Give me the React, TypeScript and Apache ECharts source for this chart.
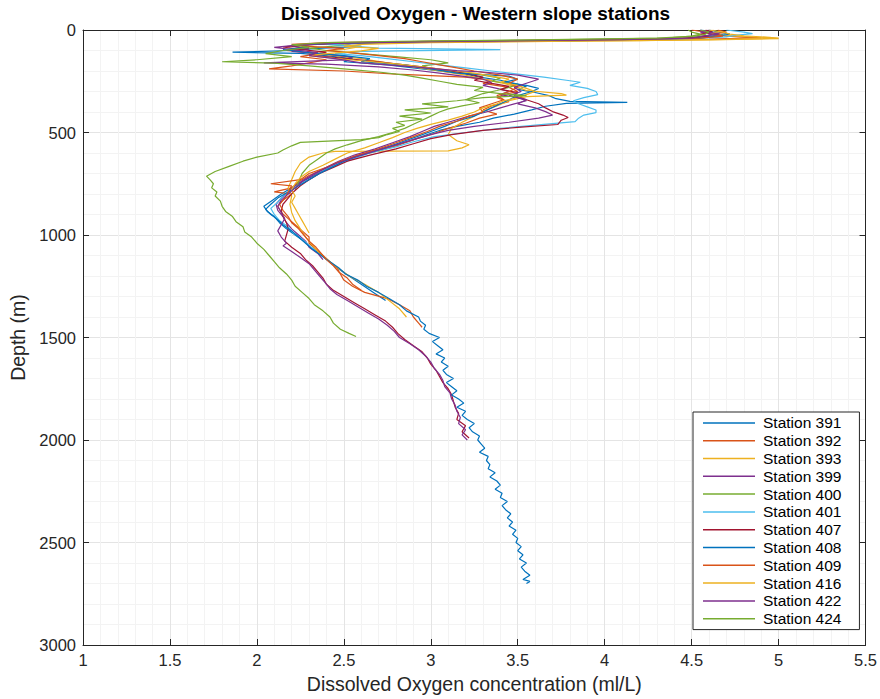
import React, { useEffect, useRef } from "react";
import * as echarts from "echarts";

// Each profile is a list of [depth (m), dissolved oxygen (ml/L)] samples.
const stationNames = [
  "Station 391", "Station 392", "Station 393", "Station 399", "Station 400", "Station 401",
  "Station 407", "Station 408", "Station 409", "Station 416", "Station 422", "Station 424",
];

const stationColors = [
  "#0072BD", "#D95319", "#EDB120", "#7E2F8E", "#77AC30", "#4DBEEE",
  "#A2142F", "#0072BD", "#D95319", "#EDB120", "#7E2F8E", "#77AC30",
];

const st391 = [
  [0, 4.55], [8, 4.62], [16, 4.6], [24, 4.68], [32, 4.58], [40, 4.5], [48, 4.2], [56, 3.4], [62, 2.7], [70, 2.45],
  [80, 2.6], [90, 2.35], [100, 2.2], [108, 1.86], [114, 2.25], [125, 2.4], [140, 2.55], [155, 2.5], [170, 2.75],
  [185, 2.9], [200, 3.05], [215, 3.2], [230, 3.28], [245, 3.4], [260, 3.48], [275, 3.55], [290, 3.5], [305, 3.6],
  [320, 3.68], [335, 3.72], [348, 3.8], [353, 4.13], [358, 3.78], [372, 3.66], [390, 3.58], [410, 3.48], [430, 3.36],
  [450, 3.28], [470, 3.15], [490, 3.05], [510, 2.98], [535, 2.9], [560, 2.8], [590, 2.68], [620, 2.56], [650, 2.48],
  [680, 2.4], [710, 2.33], [740, 2.26], [770, 2.2], [800, 2.14], [830, 2.09], [860, 2.04], [885, 2.06], [910, 2.1],
  [940, 2.13], [970, 2.17], [1000, 2.22], [1030, 2.27], [1060, 2.31], [1090, 2.36], [1120, 2.4], [1160, 2.46],
  [1200, 2.53], [1240, 2.6], [1280, 2.67], [1320, 2.74],
];

const st392 = [
  [0, 4.5], [10, 4.58], [20, 4.62], [30, 4.7], [38, 4.9], [44, 4.6], [52, 3.8], [60, 2.9], [68, 2.4], [78, 2.2],
  [88, 2.3], [100, 2.17], [115, 2.35], [130, 2.25], [145, 2.4], [160, 2.3], [175, 2.2], [190, 2.07], [200, 2.5],
  [215, 2.8], [230, 3.2], [245, 3.35], [260, 3.3], [280, 3.45], [300, 3.5], [315, 3.42], [330, 3.38], [350, 3.45],
  [370, 3.35], [390, 3.3], [410, 3.38], [430, 3.28], [455, 3.2], [480, 3.1], [505, 3.02], [530, 2.92], [560, 2.82],
  [590, 2.7], [620, 2.55], [650, 2.45], [680, 2.38], [710, 2.3], [740, 2.24], [770, 2.2], [790, 2.1], [800, 2.2],
  [830, 2.15], [860, 2.12], [890, 2.14], [920, 2.18], [950, 2.22], [980, 2.26], [1010, 2.3], [1040, 2.3],
  [1070, 2.34], [1100, 2.38], [1130, 2.42], [1160, 2.46], [1190, 2.48], [1220, 2.5], [1250, 2.55], [1280, 2.62],
  [1310, 2.75], [1340, 2.82], [1370, 2.88], [1400, 2.9], [1430, 2.93], [1450, 2.95],
];

const st393 = [
  [0, 4.62], [10, 4.65], [20, 4.6], [30, 4.75], [40, 5.0], [46, 4.7], [52, 4.2], [56, 3.3], [62, 2.6], [70, 2.45],
  [80, 2.6], [95, 2.5], [110, 2.3], [125, 2.45], [140, 2.6], [160, 2.75], [180, 2.9], [200, 3.05], [220, 3.2],
  [240, 3.3], [260, 3.42], [280, 3.5], [295, 3.55], [310, 3.75], [318, 3.78], [325, 3.55], [345, 3.45], [370, 3.38],
  [395, 3.3], [420, 3.25], [450, 3.18], [480, 3.12], [510, 3.1], [540, 3.15], [560, 3.22], [575, 3.18], [590, 3.1],
  [592, 2.45], [600, 2.38], [620, 2.3], [650, 2.25], [690, 2.22], [730, 2.2], [770, 2.18], [810, 2.2], [850, 2.19],
  [890, 2.2], [930, 2.22], [970, 2.25], [1010, 2.28], [1050, 2.32], [1090, 2.36], [1130, 2.42], [1170, 2.48],
  [1200, 2.53], [1240, 2.62], [1280, 2.7], [1320, 2.76], [1360, 2.82], [1400, 2.86],
];

const st399 = [
  [0, 4.6], [10, 4.55], [20, 4.62], [30, 4.58], [40, 4.45], [48, 3.9], [55, 3.0], [62, 2.5], [70, 2.3], [80, 2.2],
  [92, 2.3], [105, 2.2], [118, 2.4], [132, 2.55], [146, 2.5], [160, 2.04], [166, 2.4], [180, 2.7], [195, 2.9],
  [210, 3.05], [225, 3.18], [240, 3.3], [255, 3.35], [270, 3.3], [285, 3.38], [300, 3.45], [315, 3.4], [330, 3.5],
  [345, 3.55], [360, 3.48], [380, 3.4], [400, 3.32], [420, 3.22], [445, 3.12], [470, 3.02], [495, 2.95], [520, 2.88],
  [550, 2.78], [580, 2.68], [610, 2.56], [640, 2.47], [670, 2.4], [700, 2.33], [730, 2.27], [760, 2.22], [790, 2.18],
  [820, 2.14], [850, 2.11], [880, 2.12], [910, 2.15], [940, 2.17], [970, 2.2], [1000, 2.24], [1030, 2.28],
  [1060, 2.3], [1090, 2.35], [1120, 2.38],
];

const st400 = [
  [0, 4.48], [10, 4.5], [20, 4.55], [30, 4.5], [40, 4.35], [50, 3.5], [58, 2.8], [66, 2.4], [75, 2.5], [88, 2.3],
  [100, 2.4], [115, 2.6], [130, 2.8], [145, 3.0], [160, 3.1], [175, 2.95], [190, 3.0], [205, 3.15], [220, 3.3],
  [235, 3.4], [250, 3.35], [265, 3.5], [280, 3.45], [295, 3.38], [310, 3.3], [325, 3.25], [340, 3.2], [355, 3.28],
  [370, 3.18], [385, 3.1], [400, 3.05], [420, 3.0], [440, 2.95], [460, 2.9], [480, 2.85], [500, 2.78], [520, 2.7],
  [540, 2.6], [560, 2.52], [580, 2.45], [600, 2.4], [630, 2.35], [660, 2.3], [700, 2.26], [740, 2.24], [780, 2.22],
];

const st401 = [
  [0, 4.7], [10, 4.8], [18, 4.85], [26, 4.75], [34, 4.7], [42, 4.5], [50, 4.0], [56, 3.2], [62, 2.6], [70, 2.4],
  [78, 2.55], [88, 2.7], [96, 3.4], [104, 2.6], [115, 2.45], [125, 2.6], [140, 2.75], [155, 2.9], [170, 3.05],
  [185, 3.2], [200, 3.35], [215, 3.5], [230, 3.65], [245, 3.78], [255, 3.86], [270, 3.8], [285, 3.9], [300, 3.95],
  [315, 3.96], [330, 3.88], [345, 3.82], [360, 3.85], [375, 3.9], [390, 3.95], [403, 3.95], [415, 3.88], [430, 3.85],
  [447, 3.83], [460, 3.65], [480, 3.4], [500, 3.2], [520, 3.02], [545, 2.9], [570, 2.8], [600, 2.65], [630, 2.55],
  [660, 2.45], [690, 2.38], [720, 2.32], [750, 2.25], [780, 2.2], [810, 2.15], [840, 2.12], [870, 2.08], [900, 2.1],
  [930, 2.13], [960, 2.18], [990, 2.21], [1020, 2.26], [1050, 2.3], [1080, 2.34],
];

const st407 = [
  [0, 4.58], [10, 4.62], [20, 4.55], [30, 4.6], [40, 4.48], [48, 4.0], [56, 3.1], [63, 2.5], [72, 2.3], [82, 2.15],
  [95, 2.25], [108, 2.4], [122, 2.3], [138, 2.5], [155, 2.7], [170, 2.85], [185, 3.0], [200, 3.12], [215, 3.22],
  [230, 3.3], [245, 3.25], [260, 3.35], [275, 3.45], [290, 3.4], [305, 3.5], [320, 3.48], [340, 3.55], [360, 3.62],
  [380, 3.66], [398, 3.7], [415, 3.76], [427, 3.79], [440, 3.75], [461, 3.73], [475, 3.5], [490, 3.3], [510, 3.12],
  [530, 3.0], [555, 2.9], [580, 2.8], [610, 2.65], [640, 2.52], [670, 2.44], [700, 2.36], [730, 2.3], [760, 2.25],
  [790, 2.21], [820, 2.18], [850, 2.15], [880, 2.14], [910, 2.15], [940, 2.17], [970, 2.18], [1000, 2.17],
  [1030, 2.16], [1060, 2.2], [1090, 2.25], [1120, 2.28], [1150, 2.32], [1180, 2.35], [1210, 2.38], [1240, 2.4],
  [1270, 2.44], [1300, 2.5], [1330, 2.56], [1360, 2.62], [1390, 2.68], [1420, 2.74], [1450, 2.78], [1480, 2.81],
  [1510, 2.85], [1540, 2.9], [1570, 2.95], [1600, 2.98], [1630, 3.0], [1660, 3.03], [1690, 3.05], [1720, 3.07],
  [1750, 3.1], [1780, 3.12], [1810, 3.13], [1840, 3.14], [1870, 3.16], [1900, 3.15], [1930, 3.2], [1960, 3.18],
  [1990, 3.22],
];

const st408 = [
  [0, 4.6], [10, 4.66], [20, 4.72], [30, 4.64], [40, 4.55], [50, 4.1], [58, 3.0], [66, 2.4], [74, 2.25], [85, 2.3],
  [95, 2.15], [110, 2.3], [125, 2.5], [140, 2.65], [155, 2.6], [170, 2.85], [190, 3.0], [210, 3.15], [225, 3.45],
  [240, 3.5], [255, 3.42], [270, 3.55], [285, 3.62], [300, 3.58], [320, 3.5], [340, 3.45], [360, 3.4], [380, 3.35],
  [400, 3.3], [420, 3.25], [445, 3.15], [470, 3.08], [495, 3.0], [520, 2.92], [550, 2.82], [580, 2.72], [610, 2.6],
  [640, 2.5], [670, 2.43], [700, 2.36], [730, 2.3], [760, 2.24], [790, 2.18], [820, 2.12], [850, 2.08], [875, 2.05],
  [900, 2.08], [925, 2.12], [950, 2.15], [980, 2.2], [1010, 2.24], [1040, 2.28], [1070, 2.32], [1100, 2.37],
  [1130, 2.42], [1160, 2.47], [1190, 2.51], [1220, 2.58], [1250, 2.63], [1280, 2.7], [1310, 2.76], [1340, 2.82],
  [1370, 2.86], [1400, 2.93], [1420, 2.94], [1440, 2.97], [1460, 2.96], [1480, 2.99], [1500, 3.05], [1520, 3.01],
  [1540, 3.04], [1560, 3.07], [1580, 3.03], [1600, 3.08], [1620, 3.06], [1640, 3.1], [1660, 3.07], [1680, 3.09],
  [1700, 3.13], [1720, 3.09], [1740, 3.12], [1760, 3.15], [1780, 3.12], [1800, 3.16], [1820, 3.19], [1840, 3.15],
  [1860, 3.2], [1880, 3.18], [1900, 3.21], [1920, 3.25], [1940, 3.22], [1960, 3.24], [1980, 3.28], [2000, 3.27],
  [2020, 3.29], [2040, 3.31], [2060, 3.28], [2080, 3.33], [2100, 3.32], [2120, 3.34], [2140, 3.33], [2160, 3.37],
  [2180, 3.34], [2200, 3.38], [2220, 3.4], [2240, 3.37], [2260, 3.41], [2280, 3.4], [2300, 3.44], [2320, 3.41],
  [2340, 3.43], [2360, 3.46], [2380, 3.44], [2400, 3.47], [2420, 3.45], [2440, 3.49], [2460, 3.47], [2480, 3.5],
  [2500, 3.49], [2520, 3.52], [2540, 3.5], [2560, 3.53], [2580, 3.51], [2600, 3.55], [2620, 3.52], [2640, 3.54],
  [2660, 3.57], [2680, 3.53], [2690, 3.57], [2700, 3.55],
];

const st409 = [
  [0, 4.65], [10, 4.7], [20, 4.62], [30, 4.68], [40, 4.55], [48, 4.0], [55, 3.0], [62, 2.4], [70, 2.2], [80, 2.3],
  [90, 2.5], [100, 2.4], [112, 2.55], [125, 2.7], [140, 2.85], [155, 2.95], [170, 3.05], [185, 3.15], [200, 3.25],
  [220, 3.4], [240, 3.5], [260, 3.45], [280, 3.5], [300, 3.45], [320, 3.38], [340, 3.42], [360, 3.35], [380, 3.28],
  [400, 3.3], [420, 3.22], [445, 3.15], [470, 3.05], [495, 2.98], [520, 2.9], [550, 2.8], [580, 2.7], [610, 2.58],
  [640, 2.48], [670, 2.4], [700, 2.3], [730, 2.25], [750, 2.08], [760, 2.2], [790, 2.18], [820, 2.16], [850, 2.13],
  [880, 2.15], [910, 2.18], [940, 2.2], [970, 2.24], [1000, 2.27], [1030, 2.3], [1060, 2.34], [1090, 2.37],
  [1120, 2.4], [1150, 2.44], [1180, 2.47], [1210, 2.52], [1240, 2.55], [1270, 2.6],
];

const st416 = [
  [0, 4.6], [10, 4.68], [20, 4.72], [28, 4.8], [36, 4.95], [42, 5.0], [48, 4.6], [55, 3.8], [62, 3.0], [70, 2.6],
  [80, 2.5], [90, 2.7], [102, 2.6], [115, 2.4], [125, 2.3], [138, 2.45], [150, 2.6], [165, 2.8], [180, 2.95],
  [195, 3.1], [210, 3.25], [225, 3.35], [240, 3.45], [255, 3.4], [270, 3.5], [285, 3.55], [300, 3.6], [315, 3.55],
  [330, 3.5], [345, 3.42], [360, 3.38], [380, 3.3], [400, 3.25], [420, 3.18], [440, 3.1], [460, 3.0], [480, 2.92],
  [500, 2.85], [525, 2.78], [550, 2.7], [575, 2.62], [600, 2.52], [630, 2.45], [660, 2.38], [690, 2.3], [720, 2.25],
  [750, 2.22], [780, 2.2], [810, 2.22], [840, 2.2], [870, 2.22], [900, 2.24], [930, 2.26], [960, 2.28], [990, 2.3],
];

const st422 = [
  [0, 4.55], [10, 4.6], [20, 4.66], [30, 4.56], [40, 4.5], [47, 4.1], [54, 3.3], [60, 2.7], [68, 2.35], [76, 2.2],
  [85, 2.1], [95, 2.2], [110, 2.35], [125, 2.3], [140, 2.45], [160, 2.6], [180, 2.9], [198, 3.15], [205, 3.3],
  [220, 3.5], [240, 3.62], [260, 3.55], [280, 3.48], [300, 3.52], [320, 3.45], [340, 3.55], [360, 3.5], [380, 3.6],
  [398, 3.66], [415, 3.7], [430, 3.62], [450, 3.45], [470, 3.25], [490, 3.1], [510, 3.0], [535, 2.9], [560, 2.8],
  [590, 2.68], [620, 2.56], [650, 2.46], [680, 2.38], [710, 2.32], [740, 2.26], [770, 2.22], [800, 2.18],
  [830, 2.14], [860, 2.12], [890, 2.14], [920, 2.16], [950, 2.14], [980, 2.12], [1010, 2.14], [1040, 2.17],
  [1053, 2.15], [1080, 2.2], [1110, 2.25], [1140, 2.3], [1170, 2.33], [1200, 2.36], [1230, 2.39], [1262, 2.42],
  [1290, 2.46], [1320, 2.52], [1350, 2.58], [1380, 2.64], [1410, 2.7], [1440, 2.75], [1470, 2.79], [1500, 2.82],
  [1530, 2.88], [1560, 2.93], [1590, 2.97], [1620, 3.0], [1650, 3.02], [1680, 3.05], [1710, 3.07], [1740, 3.08],
  [1770, 3.11], [1800, 3.12], [1830, 3.14], [1860, 3.15], [1890, 3.17], [1920, 3.16], [1950, 3.2], [1975, 3.18],
  [2000, 3.21],
];

const st424 = [
  [0, 4.55], [10, 4.6], [20, 4.58], [30, 4.52], [40, 4.3], [48, 3.6], [55, 2.8], [62, 2.4], [72, 2.2], [85, 2.3],
  [100, 2.15], [115, 2.05], [130, 2.2], [145, 2.0], [155, 1.8], [162, 2.1], [175, 2.3], [190, 2.5], [205, 2.7],
  [220, 2.85], [235, 2.95], [250, 3.05], [265, 3.15], [280, 3.3], [295, 3.25], [310, 3.4], [320, 3.55], [330, 3.3],
  [345, 3.15], [360, 2.95], [375, 3.1], [390, 2.85], [405, 3.0], [420, 2.82], [435, 2.95], [450, 2.8], [465, 2.85],
  [480, 2.78], [495, 2.82], [510, 2.75], [525, 2.7], [535, 2.6], [548, 2.25], [565, 2.2], [585, 2.15], [600, 2.12],
  [620, 2.0], [640, 1.92], [665, 1.84], [690, 1.76], [713, 1.71], [730, 1.73], [750, 1.75], [770, 1.74], [790, 1.77],
  [810, 1.76], [835, 1.79], [860, 1.8], [885, 1.82], [910, 1.86], [935, 1.88], [960, 1.92], [985, 1.93], [1010, 1.97],
  [1040, 2.0], [1070, 2.04], [1100, 2.07], [1130, 2.1], [1160, 2.13], [1190, 2.17], [1220, 2.2], [1250, 2.22],
  [1280, 2.26], [1310, 2.3], [1340, 2.33], [1370, 2.38], [1400, 2.42], [1430, 2.44], [1460, 2.48], [1480, 2.53],
  [1495, 2.57],
];

const profiles = [st391, st392, st393, st399, st400, st401, st407, st408, st409, st416, st422, st424];

const oxygenMin = 1;
const oxygenMax = 5.5;
const oxygenStep = 0.5;
const depthMin = 0;
const depthMax = 3000;
const depthStep = 500;

const FONT = "'Liberation Sans', Arial, Helvetica, sans-serif";
const AXIS_COLOR = "#262626";

export default function App() {
  const ref = useRef<HTMLDivElement>(null);

  useEffect(() => {
    if (!ref.current) return;
    const chart = echarts.init(ref.current, undefined, { renderer: "svg" });

    const axisLine = { show: true, onZero: false, lineStyle: { color: AXIS_COLOR, width: 1 } };
    const axisTick = { show: true, inside: true, length: 6, lineStyle: { color: AXIS_COLOR, width: 1 } };
    const minorGrid = { show: true, lineStyle: { color: "#f3f3f3", width: 1 } };
    const majorGrid = { show: true, lineStyle: { color: "#e4e4e4", width: 1 } };

    chart.setOption({
      animation: false,
      backgroundColor: "#ffffff",
      textStyle: { fontFamily: FONT },
      title: {
        text: "Dissolved Oxygen - Western slope stations",
        left: 475.5,
        top: 4,
        padding: 0,
        textAlign: "center",
        textStyle: { fontFamily: FONT, fontSize: 19, fontWeight: "bold", color: "#000000" },
      },
      grid: { left: 83, right: 12, top: 30, bottom: 51, containLabel: false },
      xAxis: [
        {
          type: "value",
          position: "bottom",
          min: oxygenMin,
          max: oxygenMax,
          interval: oxygenStep,
          name: "Dissolved Oxygen concentration (ml/L)",
          nameLocation: "middle",
          nameGap: 29,
          nameTextStyle: { fontFamily: FONT, fontSize: 19.5, color: AXIS_COLOR },
          axisLine,
          axisTick,
          axisLabel: { fontFamily: FONT, fontSize: 16.5, color: AXIS_COLOR, margin: 6, formatter: (v: number) => String(v) },
          splitLine: majorGrid,
          minorTick: { show: false, splitNumber: 5 },
          minorSplitLine: minorGrid,
        },
        {
          type: "value",
          position: "top",
          min: oxygenMin,
          max: oxygenMax,
          interval: oxygenStep,
          axisLine,
          axisTick,
          axisLabel: { show: false },
          splitLine: { show: false },
        },
      ],
      yAxis: [
        {
          type: "value",
          position: "left",
          inverse: true,
          min: depthMin,
          max: depthMax,
          interval: depthStep,
          name: "Depth (m)",
          nameLocation: "middle",
          nameGap: 52,
          nameTextStyle: { fontFamily: FONT, fontSize: 19.5, color: AXIS_COLOR },
          axisLine,
          axisTick,
          axisLabel: { fontFamily: FONT, fontSize: 16.5, color: AXIS_COLOR, margin: 7, formatter: (v: number) => String(v) },
          splitLine: majorGrid,
          minorTick: { show: false, splitNumber: 5 },
          minorSplitLine: minorGrid,
        },
        {
          type: "value",
          position: "right",
          inverse: true,
          min: depthMin,
          max: depthMax,
          interval: depthStep,
          axisLine,
          axisTick,
          axisLabel: { show: false },
          splitLine: { show: false },
        },
      ],
      legend: {
        orient: "vertical",
        left: 693,
        top: 412,
        padding: [2, 18, 2, 10],
        itemGap: 0,
        itemWidth: 52,
        itemHeight: 1.5,
        icon: "rect",
        backgroundColor: "#ffffff",
        borderColor: AXIS_COLOR,
        borderWidth: 1,
        textStyle: { fontFamily: FONT, fontSize: 15.5, lineHeight: 17.8, color: "#000000", padding: [0, 0, 0, 3] },
        data: stationNames,
      },
      series: profiles.map((p, i) => ({
        type: "line",
        name: stationNames[i],
        xAxisIndex: 0,
        yAxisIndex: 0,
        data: p.map(([depth, oxygen]) => [oxygen, depth]),
        showSymbol: false,
        symbol: "none",
        clip: true,
        lineStyle: { color: stationColors[i], width: 1.2 },
        itemStyle: { color: stationColors[i] },
      })),
    });

    return () => chart.dispose();
  }, []);

  return <div ref={ref} style={{ position: "absolute", left: 0, top: 0, width: 880, height: 699 }} />;
}
